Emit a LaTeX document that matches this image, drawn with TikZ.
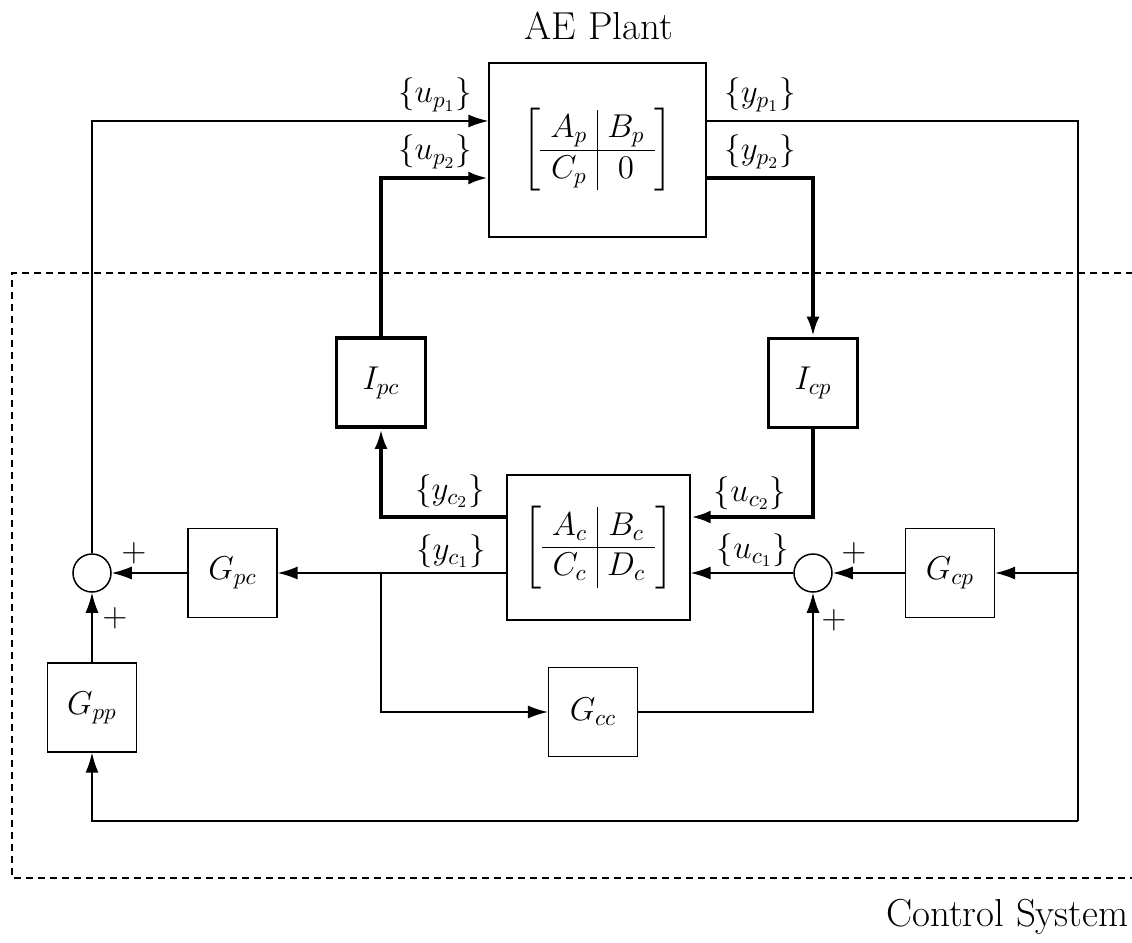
\documentclass[tikz,border=0pt]{standalone}
\usepackage{fix-cm}
\usepackage{amsmath}
\usetikzlibrary{arrows.meta}

\begin{document}
\begin{tikzpicture}[
    x=0.5pt, y=-0.5pt,
    font=\fontsize{16.5}{20}\selectfont,
    box/.style={draw, line width=0.65pt, minimum width=44.5pt,
                minimum height=44.5pt, inner sep=0pt},
    ibox/.style={box, line width=1.9pt},
    sumnode/.style={draw, circle, line width=0.75pt, minimum size=19pt, inner sep=0pt},
    sig/.style={line width=0.75pt, -{Latex[length=10pt,width=6.5pt]}},
    bus/.style={sig, line width=2pt},
    lbl/.style={inner sep=1pt},
    title/.style={font=\fontsize{19.5}{23}\selectfont},
    frame/.style={line width=0.65pt, dash pattern=on 3.5pt off 2.5pt}
]
\useasboundingbox (0,0) rectangle (1132,943);

% ---------- plant ----------
\node[box, minimum width=108.5pt, minimum height=87pt] (plant) at (597.5,150)
  {$\left[\begin{array}{c|c} A_p & B_p \\ \hline C_p & 0 \end{array}\right]$};
\node[title] (plantlbl) at (599,26) {AE Plant};

% ---------- interface blocks ----------
\node[ibox] (ipc) at (381,382.5) {$I_{pc}$};
\node[ibox] (icp) at (813,383) {$I_{cp}$};

% ---------- controller ----------
\node[box, minimum width=91.5pt, minimum height=72.5pt] (ctrl) at (598.5,547.5)
  {$\left[\begin{array}{c|c} A_c & B_c \\ \hline C_c & D_c \end{array}\right]$};

\node[sumnode] (sumL) at (92,573) {};
\node[sumnode] (sumR) at (813,573) {};
\node[box] (gpc) at (232.5,573) {$G_{pc}$};
\node[box] (gcp) at (950,573) {$G_{cp}$};
\node[box] (gpp) at (92,707.5) {$G_{pp}$};
\node[box] (gcc) at (593,712) {$G_{cc}$};

\coordinate (rtop) at (1078,121);
\coordinate (rbot) at (1078,821);
\coordinate (split) at (381,573);

% ---------- plant loop ----------
\draw[sig] (sumL.north) |- ([yshift=14.5pt]plant.west);
\draw[bus] (ipc.north) |- ([yshift=-14pt]plant.west);
\draw[bus] ([yshift=-14pt]plant.east) -| (icp.north);
\draw[line width=0.75pt] ([yshift=14.5pt]plant.east) -- (rtop) -- (rbot);
\draw[sig] (rbot) -| (gpp.south);
\draw[sig] (gcp.east -| rtop) -- (gcp.east);

% ---------- controller loop ----------
\draw[bus] (icp.south) |- ([yshift=15.25pt]ctrl.east);
\draw[bus] ([yshift=15.25pt]ctrl.west) -| (ipc.south);
\draw[sig] ([yshift=-12.75pt]ctrl.west) -- (gpc.east);
\draw[sig] (split) |- (gcc.west);
\draw[sig] (gcc.east) -| (sumR.south);
\draw[sig] (sumR.west) -- ([yshift=-12.75pt]ctrl.east);
\draw[sig] (gcp.west) -- (sumR.east);
\draw[sig] (gpc.west) -- (sumL.east);
\draw[sig] (gpp.north) -- (sumL.south);

% ---------- signal labels ----------
\node[lbl] (lup1) at (435,95)  {$\{u_{p_1}\}$};
\node[lbl] (lup2) at (435,152) {$\{u_{p_2}\}$};
\node[lbl] (lyp1) at (760,95)  {$\{y_{p_1}\}$};
\node[lbl] (lyp2) at (760,152) {$\{y_{p_2}\}$};
\node[lbl] (lyc2) at (450,491) {$\{y_{c_2}\}$};
\node[lbl] (lyc1) at (451,551) {$\{y_{c_1}\}$};
\node[lbl] (luc2) at (750,493) {$\{u_{c_2}\}$};
\node[lbl] (luc1) at (753,550) {$\{u_{c_1}\}$};

% ---------- signs ----------
\node[lbl] (pl1) at (134,553) {$+$};
\node[lbl] (pl2) at (115,618) {$+$};
\node[lbl] (pl3) at (854,553) {$+$};
\node[lbl] (pl4) at (834,620) {$+$};

% ---------- control system frame ----------
\draw[frame] (1145,273) -- (12,273) -- (12,878) -- (1145,878);
\node[title, anchor=east, inner sep=1pt] (ctrllbl) at (1131,917) {Control System};

\end{tikzpicture}
\end{document}
